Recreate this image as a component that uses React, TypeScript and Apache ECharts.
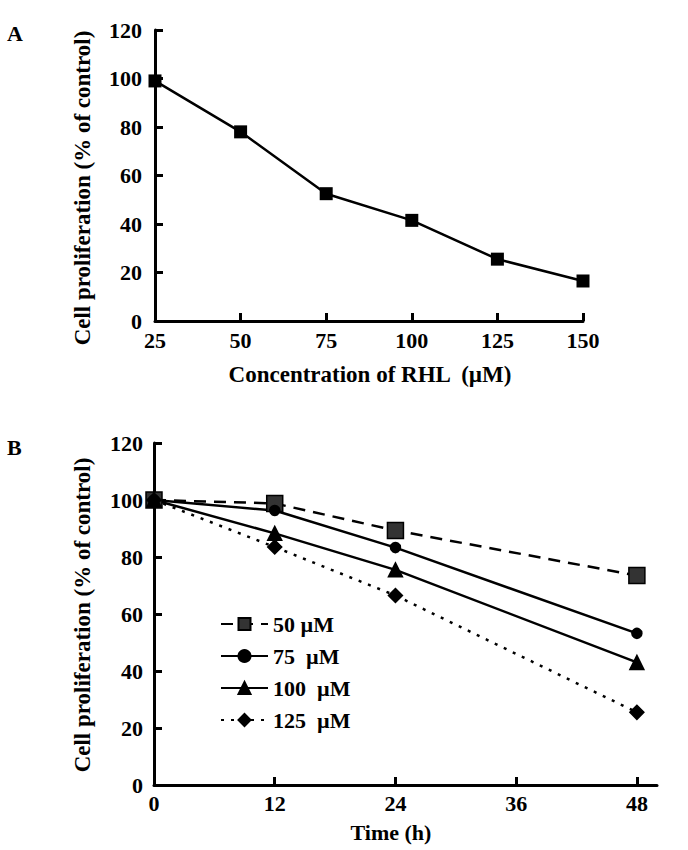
import React, { useEffect, useRef } from "react";
import * as echarts from "echarts";

// Panel A
const concCategories = [25, 50, 75, 100, 125, 150];
const prolifA = [99, 78, 52.5, 41.5, 25.5, 16.5];

// Panel B
const timePoints = [0, 12, 24, 48];
const timeTicks = [0, 12, 24, 36, 48];
const seriesNames = ["50 µM", "75  µM", "100  µM", "125  µM"];
const s50 = [100, 98.8, 89.3, 73.5];
const s75 = [100, 96.3, 83.3, 53.2];
const s100 = [100, 88.3, 75.5, 43];
const s125 = [100, 83.5, 66.5, 25.5];

const FONT = "'Liberation Serif', 'Times New Roman', serif";

export default function App() {
  const ref = useRef<HTMLDivElement>(null);
  useEffect(() => {
    if (!ref.current) return;
    const chart = echarts.init(ref.current, null, { renderer: "svg" });
    const axisCommon = {
      axisLine: { show: true, lineStyle: { color: "#000", width: 3 } },
      axisTick: { show: true, inside: true, length: 8, lineStyle: { color: "#000", width: 3 } },
      splitLine: { show: false },
      axisLabel: { color: "#000", fontFamily: FONT, fontWeight: "bold", fontSize: 22 },
    };
    const pair = (xs: number[], ys: number[]) => xs.map((x, i) => [x, ys[i]]);
    const bSeries = [
      { name: seriesNames[0], data: pair(timePoints, s50), symbol: "rect", symbolSize: 16, line: [12, 8], fill: "#333" },
      { name: seriesNames[1], data: pair(timePoints, s75), symbol: "circle", symbolSize: 10, line: "solid", fill: "#000" },
      { name: seriesNames[2], data: pair(timePoints, s100), symbol: "triangle", symbolSize: 14, line: "solid", fill: "#000" },
      { name: seriesNames[3], data: pair(timePoints, s125), symbol: "diamond", symbolSize: 14, line: [3, 7], fill: "#000" },
    ];
    chart.setOption({
      animation: false,
      backgroundColor: "#fff",
      grid: [
        { left: 155, right: 105, top: 30, height: 291, containLabel: false },
        { left: 154, right: 31, top: 443, height: 342, containLabel: false },
      ],
      xAxis: [
        {
          ...axisCommon,
          gridIndex: 0,
          type: "value",
          min: 25,
          max: 150,
          interval: 25,
          axisLabel: { ...axisCommon.axisLabel, margin: 8 },
        },
        {
          ...axisCommon,
          gridIndex: 1,
          type: "value",
          min: 0,
          max: 50,
          axisTick: { ...axisCommon.axisTick, customValues: timeTicks },
          axisLabel: { ...axisCommon.axisLabel, margin: 7, customValues: timeTicks },
        },
      ],
      yAxis: [
        {
          ...axisCommon,
          gridIndex: 0,
          type: "value",
          min: 0,
          max: 120,
          interval: 20,
          axisLabel: { ...axisCommon.axisLabel, margin: 13 },
        },
        {
          ...axisCommon,
          gridIndex: 1,
          type: "value",
          min: 0,
          max: 120,
          interval: 20,
          axisLabel: { ...axisCommon.axisLabel, margin: 11 },
        },
      ],
      legend: {
        show: true,
        orient: "vertical",
        left: 215,
        top: 608,
        itemWidth: 47,
        itemHeight: 15,
        itemGap: 10,
        textStyle: { color: "#000", fontFamily: FONT, fontWeight: "bold", fontSize: 22, lineHeight: 22 },
        data: seriesNames,
      },
      graphic: [
        { type: "text", left: 7, top: 22, style: { text: "A", font: `bold 22px ${FONT}`, fill: "#000" } },
        { type: "text", left: 7, top: 436, style: { text: "B", font: `bold 22px ${FONT}`, fill: "#000" } },
        {
          type: "text",
          x: 82,
          y: 188,
          rotation: Math.PI / 2,
          style: {
            text: "Cell proliferation (% of control)",
            font: `bold 23px ${FONT}`,
            fill: "#000",
            textAlign: "center",
            textVerticalAlign: "middle",
          },
        },
        {
          type: "text",
          x: 370,
          y: 374,
          style: {
            text: "Concentration of RHL  (µM)",
            font: `bold 23px ${FONT}`,
            fill: "#000",
            textAlign: "center",
            textVerticalAlign: "middle",
          },
        },
        {
          type: "text",
          x: 82,
          y: 615,
          rotation: Math.PI / 2,
          style: {
            text: "Cell proliferation (% of control)",
            font: `bold 23px ${FONT}`,
            fill: "#000",
            textAlign: "center",
            textVerticalAlign: "middle",
          },
        },
        {
          type: "text",
          x: 391,
          y: 832,
          style: {
            text: "Time (h)",
            font: `bold 22px ${FONT}`,
            fill: "#000",
            textAlign: "center",
            textVerticalAlign: "middle",
          },
        },
      ],
      series: [
        {
          type: "line",
          xAxisIndex: 0,
          yAxisIndex: 0,
          data: pair(concCategories, prolifA),
          symbol: "rect",
          symbolSize: 13,
          lineStyle: { color: "#000", width: 2.5 },
          itemStyle: { color: "#000" },
        },
        ...bSeries.map((s) => ({
          type: "line",
          name: s.name,
          xAxisIndex: 1,
          yAxisIndex: 1,
          data: s.data,
          symbol: s.symbol,
          symbolSize: s.symbolSize,
          lineStyle: { color: "#000", width: 2.5, type: s.line },
          itemStyle: { color: s.fill, borderColor: "#000", borderWidth: 1.5 },
        })),
      ],
    });
    return () => chart.dispose();
  }, []);
  return (
    <div
      ref={ref}
      style={{ position: "fixed", left: 0, top: 0, width: 688, height: 850, background: "#fff" }}
    />
  );
}
